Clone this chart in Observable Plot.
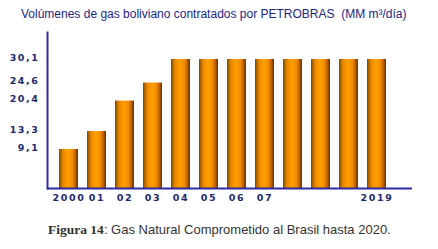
<!DOCTYPE html>
<html><head><meta charset="utf-8">
<script src="https://cdn.jsdelivr.net/npm/d3@7"></script>
<script src="https://cdn.jsdelivr.net/npm/@observablehq/plot@0.6"></script>
<style>
body{margin:0;background:#fff}
#wrap{position:relative;width:438px;height:249px;overflow:hidden;background:#fff}
#title{position:absolute;left:21px;top:7px;font:12px "Liberation Sans",Arial,sans-serif;color:#1c2488;white-space:nowrap}
#chart{position:absolute;left:0;top:0}
#cap{position:absolute;left:48px;top:222px;font:13px "Liberation Sans",Arial,sans-serif;color:#333;white-space:nowrap}
#cap b{font-family:"Liberation Serif","DejaVu Serif",serif;font-weight:bold;font-size:13.5px}
</style></head>
<body>
<div id="wrap">
  <div id="chart"></div>
  <div id="title">Volúmenes de gas boliviano contratados por PETROBRAS&nbsp; (MM m³/día)</div>
  <div id="cap"><b>Figura 14</b>: Gas Natural Comprometido al Brasil hasta 2020.</div>
</div>
<script>
const ids = ["2000","2001","2002","2003","2004","2005","2006","2007","2008","2009","2010","2019"];
const tickLabels = ["2000","01","02","03","04","05","06","07","","","","2019"];
const volumes = [9.1,13.3,20.4,24.6,30.1,30.1,30.1,30.1,30.1,30.1,30.1,30.1];
const yTicks = [9.1,13.3,20.4,24.6,30.1];

const data = ids.map((id,i)=>({id, v: volumes[i]}));
const axisColor = "#2b2ba6";
const labelColor = "#1b2a6e";

const svg = Plot.plot({
  width: 438, height: 210,
  marginLeft: 47, marginRight: 26, marginTop: 32, marginBottom: 22,
  style: {background: "transparent", overflow: "visible"},
  x: {domain: ids, range: [47, 398], padding: 0.33, label: null},
  y: {domain: [0, 36.4], label: null},
  marks: [
    Plot.barY(data, {x: "id", y: "v", fill: "url(#cyl)"}),
    Plot.ruleY([0], {stroke: axisColor, strokeWidth: 2}),
    Plot.frame({anchor: "left", stroke: axisColor, strokeWidth: 2}),
    Plot.axisY({ticks: yTicks, tickSize: 0, tickPadding: 8, dy: -2,
      tickFormat: d => String(d).replace(".", ","),
      fill: labelColor, fontSize: 9.5, fontWeight: "bold", fontFamily: "DejaVu Sans"}),
    Plot.axisX({tickSize: 0, tickPadding: 6,
      tickFormat: d => tickLabels[ids.indexOf(d)],
      fill: labelColor, fontSize: 9.5, fontWeight: "bold", fontFamily: "DejaVu Sans"})
  ]
});

d3.select(svg).insert("defs", ":first-child").html(`
  <linearGradient id="cyl" x1="0" x2="1" y1="0" y2="0">
    <stop offset="0" stop-color="#6e4a00"/>
    <stop offset="0.1" stop-color="#b86800"/>
    <stop offset="0.25" stop-color="#f28c00"/>
    <stop offset="0.5" stop-color="#ffa000"/>
    <stop offset="0.72" stop-color="#f08800"/>
    <stop offset="0.88" stop-color="#b05a00"/>
    <stop offset="1" stop-color="#6a3000"/>
  </linearGradient>`);
d3.select(svg).selectAll("text").style("letter-spacing", "1.6px");
document.getElementById("chart").appendChild(svg);
</script>
</body></html>
